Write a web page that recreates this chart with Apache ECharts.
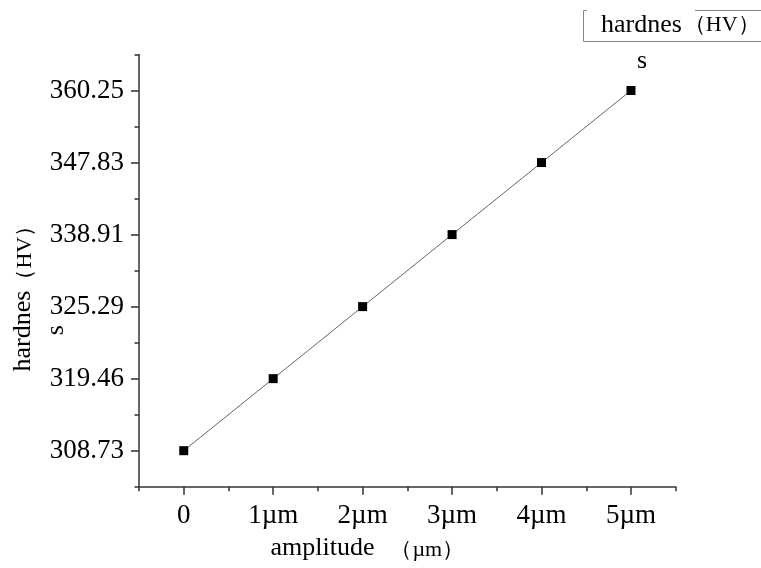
<!DOCTYPE html>
<html>
<head>
<meta charset="utf-8">
<script src="https://cdn.jsdelivr.net/npm/echarts@6/dist/echarts.min.js"></script>
<style>html,body{margin:0;padding:0;background:#fff}#c{width:761px;height:568px}</style>
</head>
<body>
<div id="c"></div>
<script>
// Data
const amplitudeLabels = ['0', '1µm', '2µm', '3µm', '4µm', '5µm'];
const hardnessLabels = ['308.73', '319.46', '325.29', '338.91', '347.83', '360.25'];
const hardnessValues = ['308.73', '319.46', '325.29', '338.91', '347.83', '360.25'];
const seriesName = 'hardness（HV）';

const serif = '"Liberation Serif", "Times New Roman", serif';
const chart = echarts.init(document.getElementById('c'));
const axisColor = '#333';

const seriesData = amplitudeLabels.map((a, i) => [a, hardnessValues[i]]);

chart.setOption({
  animation: false,
  backgroundColor: '#fff',
  textStyle: { fontFamily: serif },
  grid: { left: 139, right: 85.3, top: 54.5, bottom: 81.3, containLabel: false, outerBoundsMode: 'none' },
  legend: {
    show: true,
    left: 596,
    top: 12,
    padding: 0,
    itemWidth: 0,
    itemHeight: 0,
    itemGap: 0,
    icon: 'none',
    data: [{ name: seriesName, icon: 'none' }],
    formatter: () => '{a|hardnes}{b|（HV）}\n{s|s}',
    textStyle: {
      rich: {
        a: { fontFamily: serif, fontSize: 26, color: '#000', lineHeight: 36 },
        b: { fontFamily: serif, fontSize: 22, color: '#000', lineHeight: 36, padding: [0, 0, 0, 2] },
        s: { fontFamily: serif, fontSize: 26, color: '#000', lineHeight: 36, padding: [0, 0, 0, 36] }
      }
    }
  },
  graphic: [
    {
      type: 'polyline',
      silent: true,
      z: 100,
      shape: { points: [[587, 10.5], [583.5, 10.5], [583.5, 41.5], [761, 41.5]] },
      style: { stroke: '#888', lineWidth: 1, fill: null }
    },
    {
      type: 'line',
      silent: true,
      z: 100,
      shape: { x1: 695, y1: 10.5, x2: 761, y2: 10.5 },
      style: { stroke: '#888', lineWidth: 1 }
    }
  ],
  xAxis: [
    {
      type: 'category',
      data: amplitudeLabels,
      boundaryGap: true,
      name: 'amplitude{u|（µm）}',
      nameLocation: 'middle',
      nameGap: 48,
      nameMoveOverlap: false,
      nameTextStyle: {
        fontFamily: serif, fontSize: 26, color: '#000',
        rich: { u: { fontFamily: serif, fontSize: 22, color: '#000', padding: [5, 80, 0, 16] } }
      },
      axisLine: { show: true, lineStyle: { color: axisColor, width: 1.5 } },
      axisTick: { show: true, alignWithLabel: true, length: 8, lineStyle: { color: axisColor, width: 1.5 } },
      axisLabel: { fontFamily: serif, fontSize: 27, color: '#000', margin: 16 },
      splitLine: { show: false }
    },
    {
      type: 'category',
      data: amplitudeLabels,
      boundaryGap: true,
      position: 'bottom',
      axisLine: { show: false },
      axisTick: { show: true, length: 4.5, lineStyle: { color: axisColor, width: 1.5 } },
      axisLabel: { show: false },
      splitLine: { show: false }
    }
  ],
  yAxis: [
    {
      type: 'category',
      data: hardnessLabels,
      boundaryGap: true,
      name: 'hardnes{h|（HV）}\n{s|s}',
      nameLocation: 'middle',
      nameRotate: 90,
      nameGap: 66,
      nameMoveOverlap: false,
      nameTextStyle: {
        fontFamily: serif, fontSize: 26, color: '#000', lineHeight: 33,
        rich: {
          h: { fontFamily: serif, fontSize: 22, color: '#000', padding: [4, 45, 0, 0] },
          s: { fontFamily: serif, fontSize: 26, color: '#000', padding: [0, 119, 0, 0] }
        }
      },
      axisLine: { show: true, lineStyle: { color: axisColor, width: 1.5 } },
      axisTick: { show: true, alignWithLabel: true, length: 8, lineStyle: { color: axisColor, width: 1.5 } },
      axisLabel: { fontFamily: serif, fontSize: 27, color: '#000', margin: 15 },
      splitLine: { show: false }
    },
    {
      type: 'category',
      data: hardnessLabels,
      boundaryGap: true,
      position: 'left',
      axisLine: { show: false },
      axisTick: { show: true, length: 4.5, lineStyle: { color: axisColor, width: 1.5 } },
      axisLabel: { show: false },
      splitLine: { show: false }
    }
  ],
  series: [
    {
      name: seriesName,
      type: 'line',
      xAxisIndex: 0,
      yAxisIndex: 0,
      data: seriesData,
      symbol: 'rect',
      symbolSize: 9,
      itemStyle: { color: '#000' },
      lineStyle: { color: '#666', width: 1 }
    }
  ]
});
</script>
</body>
</html>
